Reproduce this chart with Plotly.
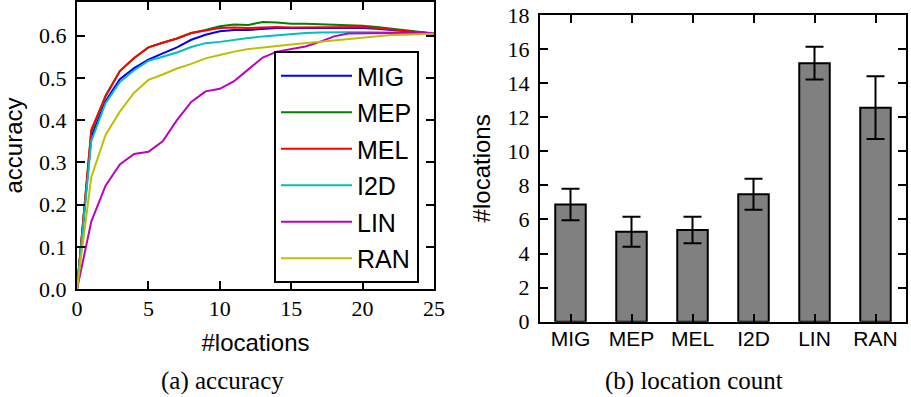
import plotly.graph_objects as go

x_loc = list(range(26))
MIG = [0, 0.360, 0.445, 0.497, 0.523, 0.543, 0.558, 0.572, 0.590, 0.602, 0.610, 0.613, 0.613, 0.616, 0.618, 0.618,
       0.618, 0.618, 0.618, 0.618, 0.618, 0.616, 0.613, 0.610, 0.607, 0.605]
MEP = [0, 0.372, 0.458, 0.516, 0.547, 0.572, 0.583, 0.593, 0.606, 0.613, 0.622, 0.626, 0.625, 0.632, 0.631, 0.628,
       0.628, 0.627, 0.626, 0.625, 0.623, 0.620, 0.616, 0.612, 0.608, 0.605]
MEL = [0, 0.377, 0.456, 0.516, 0.547, 0.572, 0.583, 0.593, 0.606, 0.612, 0.618, 0.619, 0.618, 0.619, 0.620, 0.619,
       0.619, 0.619, 0.620, 0.620, 0.620, 0.618, 0.615, 0.611, 0.607, 0.605]
I2D = [0, 0.350, 0.440, 0.490, 0.518, 0.540, 0.550, 0.560, 0.573, 0.582, 0.585, 0.590, 0.594, 0.598, 0.601, 0.603,
       0.606, 0.607, 0.608, 0.608, 0.608, 0.608, 0.607, 0.606, 0.606, 0.605]
LIN = [0, 0.160, 0.245, 0.295, 0.320, 0.325, 0.350, 0.400, 0.443, 0.468, 0.474, 0.492, 0.520, 0.548, 0.562, 0.568,
       0.574, 0.585, 0.598, 0.605, 0.605, 0.606, 0.606, 0.607, 0.607, 0.605]
RAN = [0, 0.265, 0.365, 0.420, 0.465, 0.495, 0.508, 0.522, 0.533, 0.546, 0.554, 0.562, 0.568, 0.571, 0.575, 0.579,
       0.582, 0.585, 0.589, 0.591, 0.595, 0.598, 0.601, 0.602, 0.603, 0.604]

series_names = ["MIG", "MEP", "MEL", "I2D", "LIN", "RAN"]
series_values = [MIG, MEP, MEL, I2D, LIN, RAN]
series_colors = ["#0000ff", "#008000", "#ff0000", "#00bfbf", "#bf00bf", "#bfbf00"]

bar_categories = ["MIG", "MEP", "MEL", "I2D", "LIN", "RAN"]
bar_values = [6.88, 5.28, 5.38, 7.48, 15.17, 12.56]
bar_errors = [0.93, 0.88, 0.78, 0.91, 0.96, 1.84]

W, H = 911, 397
fig = go.Figure()

for i, (name, vals, col) in enumerate(zip(series_names, series_values, series_colors)):
    fig.add_trace(go.Scatter(x=x_loc, y=vals, mode="lines", name=name, legendgroup=name,
                             line=dict(color=col, width=2), xaxis="x", yaxis="y"))

fig.add_trace(go.Bar(x=list(range(len(bar_categories))), y=bar_values, width=0.5,
                     marker=dict(color="#808080", line=dict(color="black", width=2)),
                     error_y=dict(type="data", array=bar_errors, color="black", thickness=2, width=9),
                     showlegend=False, xaxis="x2", yaxis="y2"))

tickfont = dict(family="Liberation Serif", size=22, color="black")
labfont = dict(family="Liberation Sans", size=24, color="black")
common = dict(showline=True, linecolor="black", linewidth=2, mirror="ticks", ticks="inside",
              ticklen=8, tickwidth=1.5, tickcolor="black", showgrid=False, zeroline=False,
              tickfont=tickfont, automargin=False)

fig.update_layout(
    width=W, height=H, autosize=False,
    margin=dict(l=0, r=0, t=0, b=0, autoexpand=False),
    paper_bgcolor="white", plot_bgcolor="white",
    xaxis=dict(domain=[77 / W, 434 / W], range=[0, 25], tickvals=[0, 5, 10, 15, 20, 25],
               ticklabelstandoff=-2,
               title=dict(text="#locations", font=labfont, standoff=14), anchor="y", **common),
    yaxis=dict(domain=[1 - 289.3 / H, 1 - 1.7 / H], range=[0, 0.68],
               tickvals=[0, 0.1, 0.2, 0.3, 0.4, 0.5, 0.6], tickformat=".1f",
               ticklabelstandoff=4,
               title=dict(text="accuracy", font=labfont, standoff=10), anchor="x", **common),
    xaxis2=dict(domain=[540 / W, 906 / W], range=[-0.5, 5.5],
                tickvals=list(range(len(bar_categories))), ticktext=bar_categories,
                ticklabelstandoff=-3,
                anchor="y2", **{**common, "tickfont": dict(family="Liberation Sans", size=21, color="black")}),
    yaxis2=dict(domain=[1 - 321.7 / H, 1 - 15 / H], range=[0, 18], tickvals=list(range(0, 19, 2)),
                ticklabelstandoff=4,
                title=dict(text="#locations", font=labfont, standoff=10), anchor="x2", **common),
    legend=dict(x=274 / W, xanchor="left", y=1 - 51 / H, yanchor="top",
                bordercolor="black", borderwidth=2, bgcolor="white",
                font=dict(family="Liberation Sans", size=25, color="black"),
                tracegroupgap=1, itemwidth=71),
    showlegend=True,
)

capfont = dict(family="Liberation Serif", size=25, color="black")
fig.add_annotation(text="(a) accuracy", x=222.5 / W, y=1 - 381 / H, xref="paper", yref="paper",
                   showarrow=False, font=capfont, xanchor="center", yanchor="middle")
fig.add_annotation(text="(b) location count", x=694 / W, y=1 - 381 / H, xref="paper", yref="paper",
                   showarrow=False, font=capfont, xanchor="center", yanchor="middle")

fig.write_html("out.html")
